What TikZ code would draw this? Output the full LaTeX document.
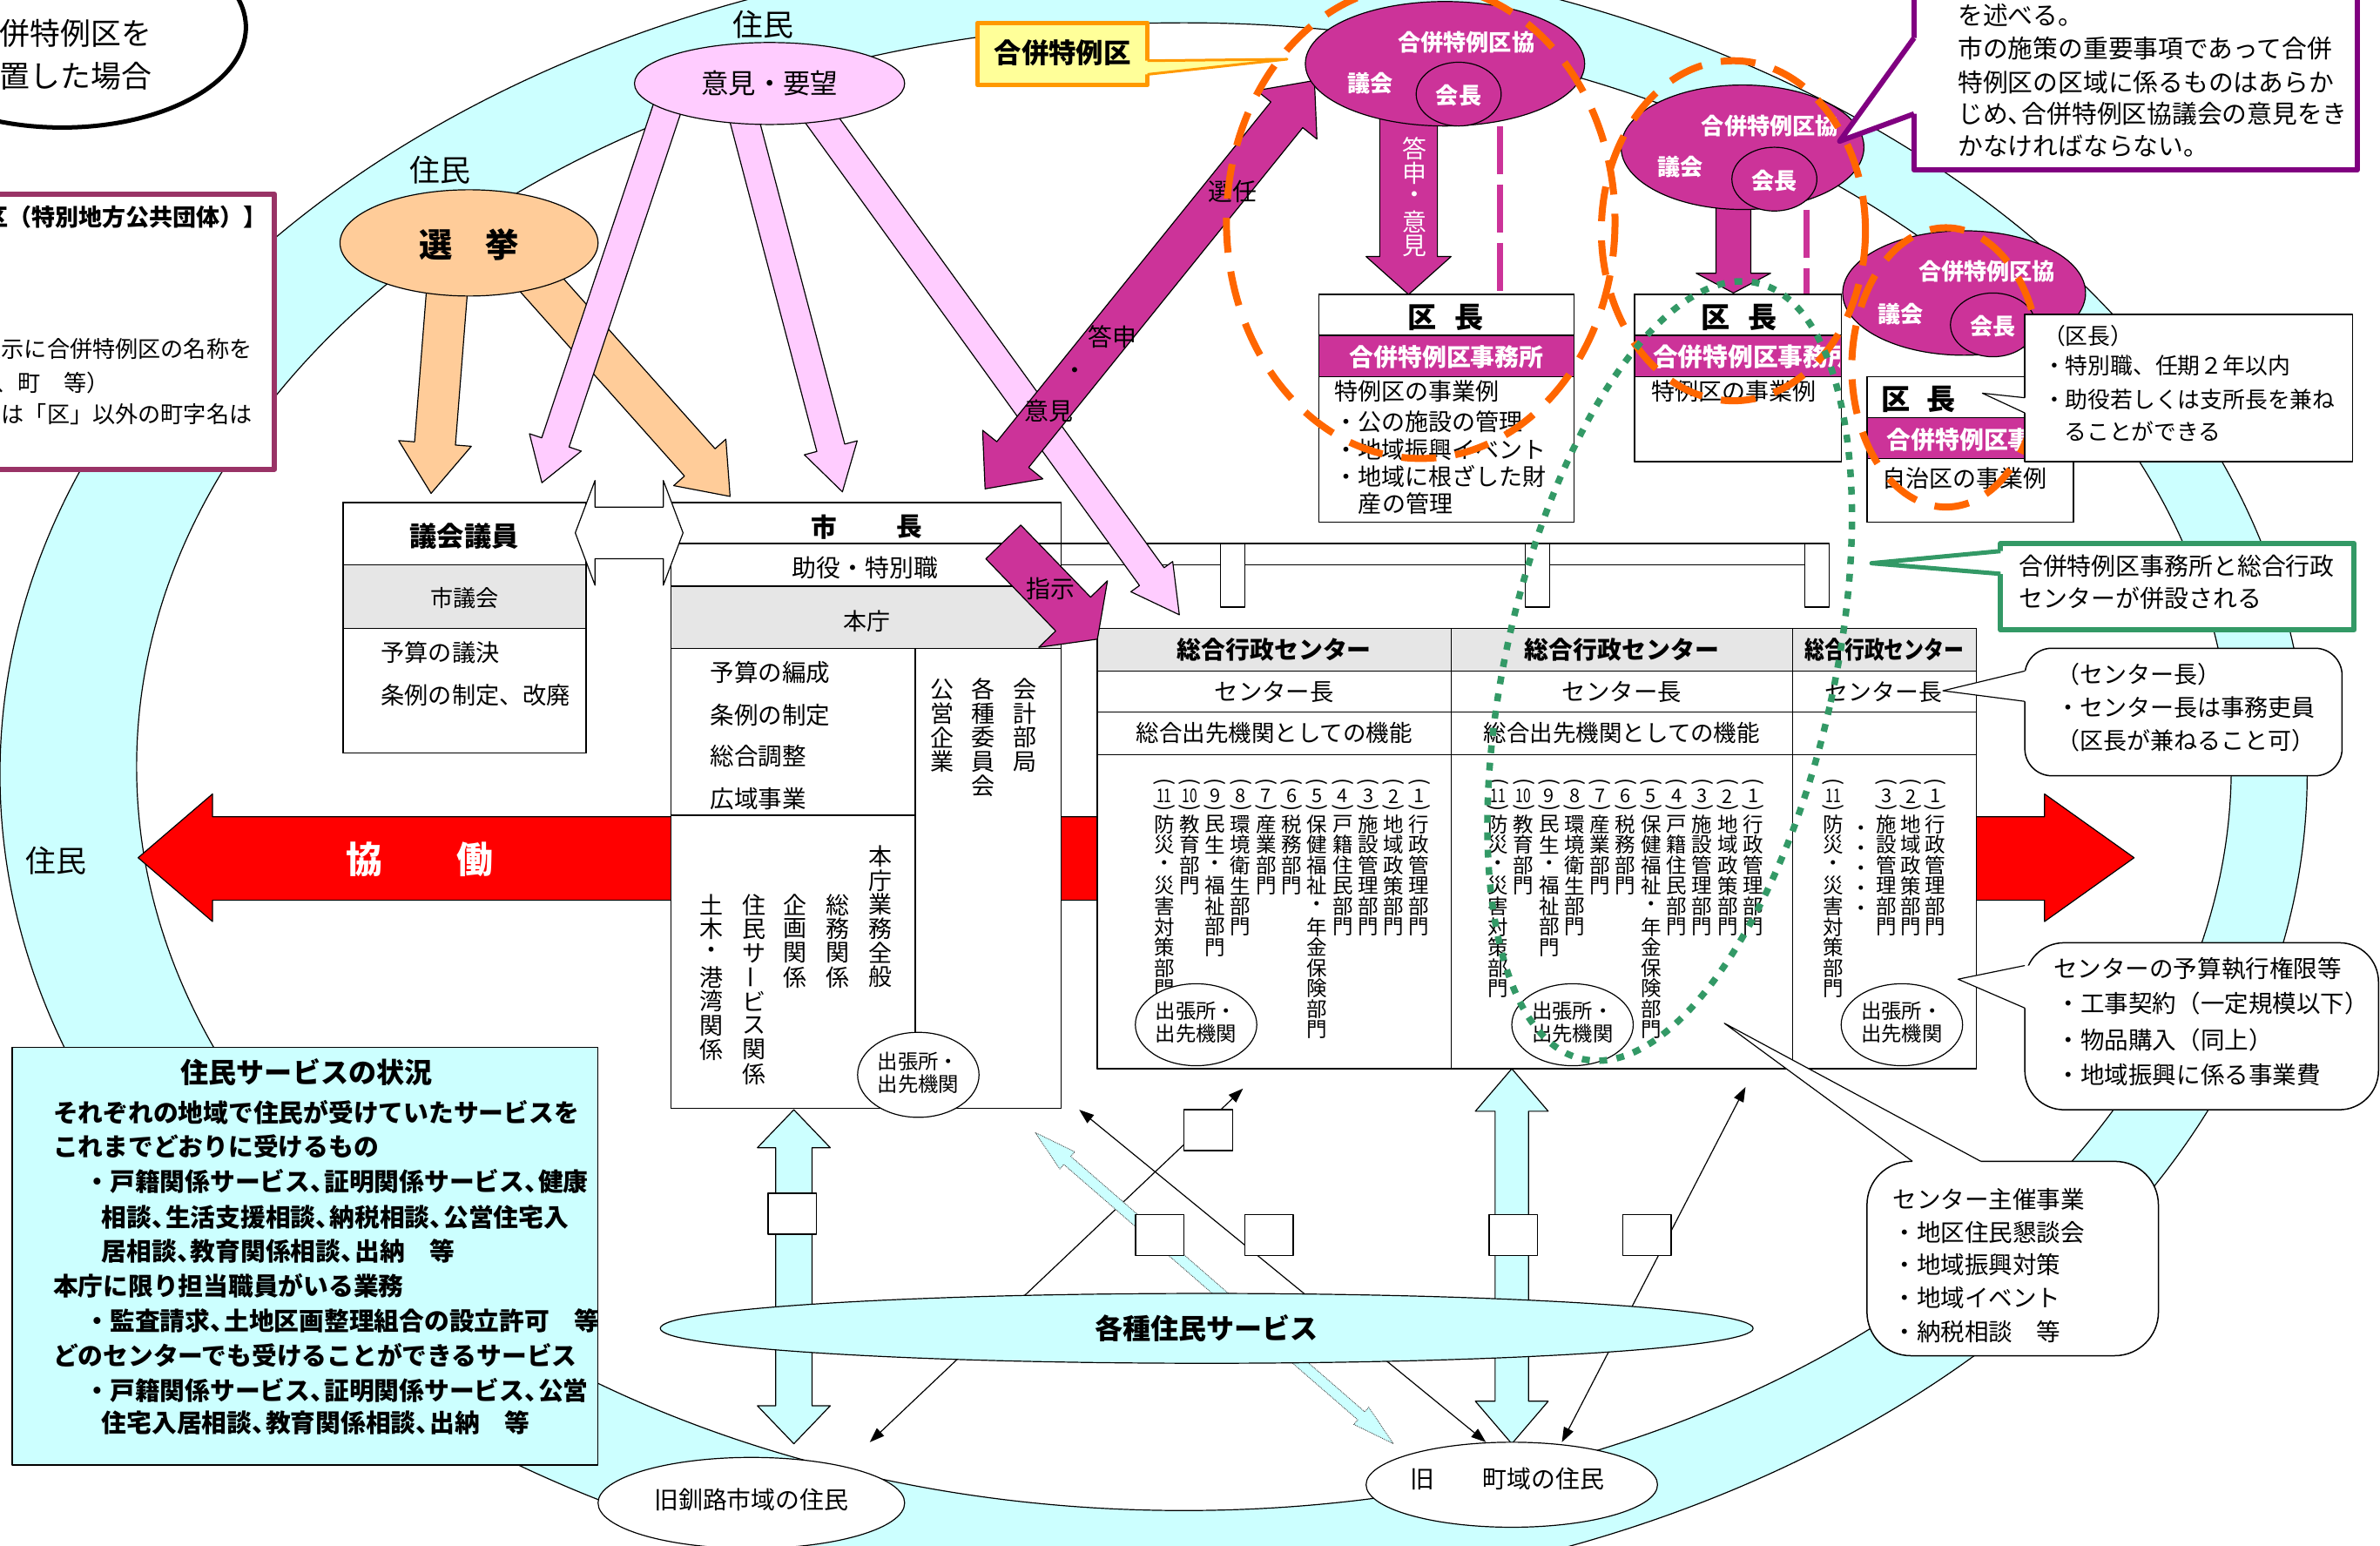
\documentclass[tikz,border=0pt]{standalone}
\usepackage{fontspec}
\setmainfont{Noto Sans CJK JP}
\usepackage{graphicx}
\usetikzlibrary{calc,arrows.meta}
\definecolor{ringc}{HTML}{CCFFFF}
\definecolor{peach}{HTML}{FFCC99}
\definecolor{pinkc}{HTML}{FFCCFF}
\definecolor{mag}{HTML}{CC3399}
\definecolor{orng}{HTML}{FF6600}
\definecolor{grn}{HTML}{339966}
\definecolor{grayc}{HTML}{E6E6E6}
\definecolor{purp}{HTML}{800080}
\definecolor{lpurp}{HTML}{993366}
\definecolor{yel}{HTML}{FFFF99}
\definecolor{yelb}{HTML}{FF9900}
\newcommand\fs[1]{\fontsize{\fpeval{1.743*#1}pt}{\fpeval{1.743*#1*1.2}pt}\selectfont}
\newcommand\hc{\makebox[0.55em][l]{、}}
\newcommand\vbar{\rotatebox[origin=c]{90}{ー}}
\newcommand\fatarrow[6][]{%
  \pgfpointdiff{\pgfpointanchor{#2}{center}}{\pgfpointanchor{#3}{center}}%
  \pgfgetlastxy\fadx\fady
  \pgfmathsetmacro\faang{atan2(\fady,\fadx)}%
  \pgfmathsetmacro\falen{veclen(\fadx,\fady)/1.743}%
  \begin{scope}[shift={(#2)},rotate=\faang]
    \path[#1] (0,{-#4/2}) -- ({\falen-#6},{-#4/2}) -- ({\falen-#6},{-#5/2}) -- (\falen,0) -- ({\falen-#6},{#5/2}) -- ({\falen-#6},{#4/2}) -- (0,{#4/2}) -- cycle;
  \end{scope}}
\newcommand\fatdarrow[6][]{%
  \pgfpointdiff{\pgfpointanchor{#2}{center}}{\pgfpointanchor{#3}{center}}%
  \pgfgetlastxy\fadx\fady
  \pgfmathsetmacro\faang{atan2(\fady,\fadx)}%
  \pgfmathsetmacro\falen{veclen(\fadx,\fady)/1.743}%
  \begin{scope}[shift={(#2)},rotate=\faang]
    \path[#1] (0,0) -- (#6,{-#5/2}) -- (#6,{-#4/2}) -- ({\falen-#6},{-#4/2}) -- ({\falen-#6},{-#5/2}) -- (\falen,0) -- ({\falen-#6},{#5/2}) -- ({\falen-#6},{#4/2}) -- (#6,{#4/2}) -- (#6,{#5/2}) -- cycle;
  \end{scope}}
\newcommand\vcol[5]{\foreach \ch [count=\k] in {#5}{\node[txt] (#1-\k) at ({#2},{#3+(\k-1)*#4}) {\ch};}}
\newcommand\titem[4]{%
  \node[txt,font=\fs{14}] (#1o) at ({#2},516) {\rotatebox[origin=c]{-90}{(}};
  \node[txt,font=\fs{12.5}] (#1n) at ({#2},524.5) {\ifnum#3>9 \scalebox{0.72}[1]{#3}\else #3\fi};
  \node[txt,font=\fs{14}] (#1c) at ({#2},533) {\rotatebox[origin=c]{-90}{)}};
  \vcol{#1}{#2}{543}{13.5}{#4}}
\newcommand\centercol[2]{%
  \titem{#1a}{#2}{1}{行,政,管,理,部,門}%
  \titem{#1b}{#2-16.8}{2}{地,域,政,策,部,門}%
  \titem{#1c}{#2-33.6}{3}{施,設,管,理,部,門}%
  \titem{#1d}{#2-50.4}{4}{戸,籍,住,民,部,門}%
  \titem{#1e}{#2-67.2}{5}{保,健,福,祉,・,年,金,保,険,部,門}%
  \titem{#1f}{#2-84}{6}{税,務,部,門}%
  \titem{#1g}{#2-100.8}{7}{産,業,部,門}%
  \titem{#1h}{#2-117.6}{8}{環,境,衛,生,部,門}%
  \titem{#1i}{#2-134.4}{9}{民,生,・,福,祉,部,門}%
  \titem{#1j}{#2-151.2}{10}{教,育,部,門}%
  \titem{#1k}{#2-168}{11}{防,災,・,災,害,対,策,部,門}}
\begin{document}
\begin{tikzpicture}[x=1.743pt,y=-1.743pt,line join=round,
  txt/.style={inner sep=0pt,outer sep=0pt,align=center},
  ln/.style={line width=1.2pt},
  bx/.style={draw,line width=1.5pt},
  dbl/.style={line width=1.2pt,{Triangle[length=17pt,width=12pt]}-{Triangle[length=17pt,width=12pt]}},
  odash/.style={draw=orng,line width=8pt,dash pattern=on 40pt off 22pt},
  wt/.style={txt,text=white,font=\fs{15}\bfseries}]
\useasboundingbox (0,0) rectangle (1568,1018);
\fill[white] (0,0) rectangle (1568,1018);
% ring
\fill[ringc,even odd rule] (760,510) ellipse [x radius=760,y radius=545] (780,505) ellipse [x radius=690,y radius=490];
\draw[ln] (760,510) ellipse [x radius=760,y radius=545];
\draw[ln] (780,505) ellipse [x radius=690,y radius=490];
% top-left ellipse
\draw[line width=5pt,fill=white] (41,18) ellipse [x radius=121,y radius=66];
\node[txt,anchor=east,font=\fs{20}] (tl1) at (100,22) {合併特例区を};
\node[txt,anchor=east,font=\fs{20}] (tl2) at (100,50) {設置した場合};
% left box
\draw[draw=lpurp,line width=6pt,fill=white] (-60,128) rectangle (181,309);
\node[txt,anchor=east,font=\fs{15.5}\bfseries] (lb1) at (176,143) {【合併特例区（特別地方公共団体）】};
\node[txt,anchor=east,font=\fs{15}] (lb2) at (166,230) {住居表示に合併特例区の名称を};
\node[txt,anchor=east,font=\fs{15}] (lb3) at (72,252) {（区、町　等）};
\node[txt,anchor=east,font=\fs{15}] (lb4) at (166,273) {又は「区」以外の町字名は};
% election
\coordinate (a1s) at (295,185); \coordinate (a1e) at (284,325);
\coordinate (a2s) at (350,180); \coordinate (a2e) at (481,327);
\fatarrow[fill=peach,draw,ln]{a1s}{a1e}{27}{48}{33}
\fatarrow[fill=peach,draw,ln]{a2s}{a2e}{27}{46}{30}
\draw[ln,fill=peach] (309,160) ellipse [x radius=85,y radius=35];
\node[txt,font=\fs{22}\bfseries] (senkyo) at (309,161) {選　挙};
\node[txt,font=\fs{20}] (jumin1) at (290,112) {住民};
% opinions
\coordinate (p1s) at (440,70); \coordinate (p1e) at (357,318);
\coordinate (p2s) at (488,70); \coordinate (p2e) at (555,324);
\coordinate (p3s) at (535,70); \coordinate (p3e) at (777,405);
\fatarrow[fill=pinkc,draw,ln]{p1s}{p1e}{19}{36}{28}
\fatarrow[fill=pinkc,draw,ln]{p2s}{p2e}{19}{36}{30}
% red collaboration arrow
\draw[ln,fill=red] (91,565) -- (140,523) -- (140,538) -- (1347,538) -- (1347,523) -- (1406,565) -- (1347,607) -- (1347,593) -- (140,593) -- (140,607) -- cycle;
\node[txt,font=\fs{24}\bfseries,text=white] (kyo) at (240,566) {協};
\node[txt,font=\fs{24}\bfseries,text=white] (dou) at (313,566) {働};
\node[txt,font=\fs{20}] (jumin3) at (37,567) {住民};
% assembly box
\draw[bx,fill=white] (226,331) rectangle (386,496);
\fill[grayc] (226,372) rectangle (386,414);
\draw[bx] (226,372) -- (386,372) (226,414) -- (386,414);
\draw[bx] (226,331) rectangle (386,496);
\node[txt,font=\fs{18}\bfseries] (gikai) at (306,353) {議会議員};
\node[txt,font=\fs{15}] (shigikai) at (306,394) {市議会};
\node[txt,anchor=west,font=\fs{15.6}] (g1) at (251,430) {予算の議決};
\node[txt,anchor=west,font=\fs{15.6}] (g2) at (251,458) {条例の制定、改廃};
% mayor box
\draw[bx,fill=white] (442,331) rectangle (699,730);
\fill[grayc] (442,386) rectangle (699,427);
\draw[bx] (442,358) -- (699,358) (442,386) -- (699,386) (442,427) -- (699,427) (603,427) -- (603,730) (442,537) -- (603,537);
\draw[bx] (442,331) rectangle (699,730);
\node[txt,font=\fs{17}\bfseries] (shi) at (543,347) {市};
\node[txt,font=\fs{17}\bfseries] (cho) at (599,347) {長};
\node[txt,font=\fs{16}] (joyaku) at (570,374) {助役・特別職};
\node[txt,font=\fs{15.5}] (honcho) at (571,409) {本庁};
\begin{scope}[font=\fs{15.8}]
\node[txt,anchor=west] (m1) at (468,443) {予算の編成};
\node[txt,anchor=west] (m2) at (468,471) {条例の制定};
\node[txt,anchor=west] (m3) at (468,498) {総合調整};
\node[txt,anchor=west] (m4) at (468,526) {広域事業};
\end{scope}
\begin{scope}[font=\fs{15.5}]
\vcol{ko}{621}{454}{15.9}{公,営,企,業}
\vcol{ka}{648}{454}{15.9}{各,種,委,員,会}
\vcol{kk}{675}{454}{15.9}{会,計,部,局}
\vcol{hg}{580}{564}{15.9}{本,庁,業,務,全,般}
\vcol{so}{552}{596}{15.9}{総,務,関,係}
\vcol{ki}{524}{596}{15.9}{企,画,関,係}
\vcol{js}{497}{596}{15.9}{住,民,サ,\vbar,ビ,ス,関,係}
\vcol{dk}{469}{596}{15.9}{土,木,・,港,湾,関,係}
\end{scope}
\draw[ln,fill=white] (605,708) ellipse [x radius=40,y radius=28];
\node[txt,font=\fs{13.4}] (mc1) at (605,699) {出張所・};
\node[txt,font=\fs{13.4}] (mc2) at (605,714) {出先機関};
% pipe
\draw[bx] (699,358) -- (1205,358);
\draw[bx] (699,372) -- (804,372) (820,372) -- (1005,372) (1021,372) -- (1189,372);
\draw[bx,fill=white] (804,358) rectangle (820,400);
\draw[bx,fill=white] (1005,358) rectangle (1021,400);
\draw[bx,fill=white] (1189,358) rectangle (1205,400);
% centers table
\draw[bx,fill=white] (723,414) rectangle (1302,704);
\fill[grayc] (723,414) rectangle (1302,442);
\draw[bx] (723,442) -- (1302,442) (723,469) -- (1302,469) (723,497) -- (1302,497) (956,414) -- (956,704) (1181,414) -- (1181,704);
\draw[bx] (723,414) rectangle (1302,704);
\node[txt,font=\fs{16}\bfseries] (h1) at (839.5,428) {総合行政センター};
\node[txt,font=\fs{16}\bfseries] (h2) at (1068.5,428) {総合行政センター};
\node[txt,font=\fs{16}\bfseries] (h3) at (1241.5,428) {\scalebox{0.82}[1]{総合行政センター}};
\node[txt,font=\fs{15.7}] (c1) at (839.5,456) {センター長};
\node[txt,font=\fs{15.7}] (c2) at (1068.5,456) {センター長};
\node[txt,font=\fs{15.4}] (c3) at (1241,456) {センター長};
\node[txt,font=\fs{15.2}] (f1) at (839.5,483) {総合出先機関としての機能};
\node[txt,font=\fs{15.2}] (f2) at (1068.5,483) {総合出先機関としての機能};
\begin{scope}[font=\fs{13.5}]
\centercol{u}{935}
\centercol{v}{1155}
\titem{wa}{1275}{1}{行,政,管,理,部,門}
\titem{wb}{1259}{2}{地,域,政,策,部,門}
\titem{wc}{1243}{3}{施,設,管,理,部,門}
\vcol{wdots}{1226}{547}{13.3}{・,・,・,・,・}
\titem{wk}{1208}{11}{防,災,・,災,害,対,策,部,門}
\end{scope}
\foreach \cx/\nm in {788/o1,1036/o2,1253/o3}{
  \draw[ln,fill=white] (\cx,675) ellipse [x radius=40,y radius=27];
  \node[txt,font=\fs{13.4}] (\nm a) at (\cx,666) {出張所・};
  \node[txt,font=\fs{13.4}] (\nm b) at (\cx,681) {出先機関};}
% pink arrow over pipe
\fatarrow[fill=pinkc,draw,ln]{p3s}{p3e}{20}{34}{31}
\draw[ln,fill=pinkc] (507,55) ellipse [x radius=89,y radius=27];
\node[txt,font=\fs{18}] (iken) at (507,55) {意見・要望};
\node[txt,font=\fs{20}] (jumin2) at (503,16) {住民};
% instruction arrow
\coordinate (sj1) at (661,357); \coordinate (sj2) at (723,421);
\fatarrow[fill=mag,draw,ln]{sj1}{sj2}{32}{63}{23}
\node[txt,font=\fs{16}] (shiji) at (692,388) {指示};
% appointment arrow
\coordinate (sn1) at (649,322); \coordinate (sn2) at (866,53);
\fatdarrow[fill=mag,draw,ln]{sn1}{sn2}{27}{51}{29}
\node[txt,font=\fs{16}] (sennin) at (812,126) {選任};
\node[txt,font=\fs{16}] (toushin) at (733,222) {答申};
\node[txt,font=\fs{16}] (ten) at (708,246) {・};
\node[txt,font=\fs{16}] (ikenl) at (691,271) {意見};
% down arrows from councils
\coordinate (d1s) at (928,70); \coordinate (d1e) at (928,194);
\fatarrow[fill=mag,draw,ln]{d1s}{d1e}{38}{56}{25}
\coordinate (d2s) at (1142,125); \coordinate (d2e) at (1142,193);
\fatarrow[fill=mag,draw,ln]{d2s}{d2e}{23}{49}{13}
\begin{scope}[font=\fs{16},text=white]
\vcol{td}{932}{98}{16}{答,申,・,意,見}
\end{scope}
\draw[mag,line width=7pt,dash pattern=on 55pt off 12pt] (988,83) -- (988,194);
\draw[mag,line width=7pt,dash pattern=on 55pt off 12pt] (1190,138) -- (1190,194);
% ward head boxes
\draw[bx,fill=white] (869,194) rectangle (1037,344);
\fill[mag] (869,221) rectangle (1037,248);
\draw[bx] (869,221) -- (1037,221) (869,248) -- (1037,248);
\draw[bx] (869,194) rectangle (1037,344);
\node[txt,font=\fs{19}\bfseries] (k1a) at (937,209) {区};
\node[txt,font=\fs{19}\bfseries] (k1b) at (968,209) {長};
\node[wt,font=\fs{16}\bfseries] (k1c) at (953,235) {合併特例区事務所};
\begin{scope}[font=\fs{15.5}]
\node[txt,anchor=west] (k1d) at (879,258) {特例区の事業例};
\node[txt,anchor=west] (k1e) at (879,278) {・公の施設の管理};
\node[txt,anchor=west] (k1f) at (879,296) {・地域振興イベント};
\node[txt,anchor=west] (k1g) at (879,314) {・地域に根ざした財};
\node[txt,anchor=west] (k1h) at (895,332) {産の管理};
\end{scope}
\draw[bx,fill=white] (1077,194) rectangle (1213,304);
\fill[mag] (1077,221) rectangle (1213,248);
\draw[bx] (1077,221) -- (1213,221) (1077,248) -- (1213,248);
\draw[bx] (1077,194) rectangle (1213,304);
\node[txt,font=\fs{19}\bfseries] (k2a) at (1130,209) {区};
\node[txt,font=\fs{19}\bfseries] (k2b) at (1161,209) {長};
\begin{scope}
\clip (1077,221) rectangle (1212,248);
\node[wt,anchor=west,font=\fs{16.5}\bfseries] (k2c) at (1089,235) {合併特例区事務所};
\end{scope}
\node[txt,anchor=west,font=\fs{15.5}] (k2d) at (1088,258) {特例区の事業例};
\draw[bx,fill=white] (1230,248) rectangle (1366,344);
\fill[mag] (1230,275) rectangle (1366,302);
\draw[bx] (1230,275) -- (1366,275) (1230,302) -- (1366,302);
\draw[bx] (1230,248) rectangle (1366,344);
\node[txt,font=\fs{19}\bfseries] (k3a) at (1249,263) {区};
\node[txt,font=\fs{19}\bfseries] (k3b) at (1279,263) {長};
\node[wt,anchor=west,font=\fs{16}\bfseries] (k3c) at (1243,290) {合併特例区事務所};
\node[txt,anchor=west,font=\fs{15.5}] (k3d) at (1240,315) {自治区の事業例};
% council ellipses
\draw[ln,fill=mag] (952,42) ellipse [x radius=92,y radius=41];
\draw[ln,fill=mag] (961,62) ellipse [x radius=28,y radius=21];
\node[wt,anchor=west] (e1a) at (921,28) {合併特例区協};
\node[wt] (e1b) at (903,55) {議会};
\node[wt] (e1c) at (961,63) {会長};
\draw[ln,fill=mag] (1148,97) ellipse [x radius=80,y radius=41];
\draw[ln,fill=mag] (1169,118) ellipse [x radius=28,y radius=21];
\node[wt,anchor=west] (e2a) at (1121,83) {合併特例区協};
\node[wt] (e2b) at (1107,110) {議会};
\node[wt] (e2c) at (1169,119) {会長};
\draw[ln,fill=mag] (1294,193) ellipse [x radius=80,y radius=41];
\draw[ln,fill=mag] (1313,214) ellipse [x radius=28,y radius=21];
\node[wt,anchor=west] (e3a) at (1264,179) {合併特例区協};
\node[wt] (e3b) at (1252,207) {議会};
\node[wt] (e3c) at (1313,215) {会長};
% orange dashed groups
\draw[odash] (936,146) ellipse [x radius=128,y radius=156];
\draw[odash] (1142,152) ellipse [x radius=87,y radius=112];
\draw[odash] (1282,242) ellipse [x radius=62,y radius=92];
% green dotted
\draw[grn,line width=7.5pt,dash pattern=on 9pt off 11pt,shift={(1100,442)},rotate=-12.7] (0,0) ellipse [x radius=108,y radius=262];
% callout: yellow label
\draw[draw=yelb,line width=5pt,fill=yel] (644,15) rectangle (756,56);
\fill[yel] (752,40) -- (756,40) -- (848,39) -- (756,49) -- (752,49) -- cycle;
\draw[draw=yelb,line width=3pt] (756,40) -- (848,39) -- (756,49);
\node[txt,font=\fs{18}\bfseries] (gtl) at (700,35) {合併特例区};
% callout: top right purple
\draw[draw=purp,line width=6pt,fill=white] (1261,-10) rectangle (1553,112);
\fill[white] (1266,25) -- (1261,25) -- (1212,93) -- (1261,75) -- (1266,75) -- cycle;
\draw[draw=purp,line width=6pt] (1261,25) -- (1212,93) -- (1261,75);
\begin{scope}[font=\fs{16.5}]
\node[txt,anchor=west] (tr1) at (1290,10) {を述べる。};
\node[txt,anchor=west] (tr2) at (1290,32) {市の施策の重要事項であって合併};
\node[txt,anchor=west] (tr3) at (1290,54) {特例区の区域に係るものはあらか};
\node[txt,anchor=west] (tr4) at (1290,75) {じめ\hc 合併特例区協議会の意見をき};
\node[txt,anchor=west] (tr5) at (1290,96) {かなければならない。};
\end{scope}
% callout: ward head
\draw[bx,fill=white] (1334,207) rectangle (1550,304);
\fill[white] (1338,262) -- (1334,262) -- (1306,259) -- (1334,272) -- (1338,272) -- cycle;
\draw[ln] (1334,262) -- (1306,259) -- (1334,272);
\begin{scope}[font=\fs{14.8}]
\node[txt,anchor=west] (q1) at (1346,221) {（区長）};
\node[txt,anchor=west] (q2) at (1346,241) {・特別職、任期２年以内};
\node[txt,anchor=west] (q3) at (1346,263) {・助役若しくは支所長を兼ね};
\node[txt,anchor=west] (q4) at (1360,284) {ることができる};
\end{scope}
% callout: green
\draw[draw=grn,line width=6pt,fill=white] (1318,358) rectangle (1551,415);
\fill[white] (1324,363) -- (1318,363) -- (1233,371) -- (1318,378) -- (1324,378) -- cycle;
\draw[draw=grn,line width=5pt] (1318,363) -- (1233,371) -- (1318,378);
\node[txt,anchor=west,font=\fs{16}] (gr1) at (1330,373) {合併特例区事務所と総合行政};
\node[txt,anchor=west,font=\fs{16}] (gr2) at (1330,394) {センターが併設される};
% callout: center head
\draw[bx,fill=white,rounded corners=31pt] (1334,427) rectangle (1543,511);
\fill[white] (1338,442) -- (1334,442) -- (1280,455) -- (1334,462) -- (1338,462) -- cycle;
\draw[ln] (1334,442) -- (1280,455) -- (1334,462);
\begin{scope}[font=\fs{15.5}]
\node[txt,anchor=west] (s1) at (1355,444) {（センター長）};
\node[txt,anchor=west] (s2) at (1355,466) {・センター長は事務吏員};
\node[txt,anchor=west] (s3) at (1355,488) {（区長が兼ねること可）};
\end{scope}
% callout: budget
\draw[bx,fill=white,rounded corners=45pt] (1334,621) rectangle (1567,731);
\fill[white] (1338,636) -- (1334,636) -- (1290,645) -- (1334,664) -- (1338,664) -- cycle;
\draw[ln] (1334,636) -- (1290,645) -- (1334,664);
\begin{scope}[font=\fs{15.8}]
\node[txt,anchor=west] (y1) at (1353,638) {センターの予算執行権限等};
\node[txt,anchor=west] (y2) at (1355,661) {・工事契約（一定規模以下）};
\node[txt,anchor=west] (y3) at (1355,685) {・物品購入（同上）};
\node[txt,anchor=west] (y4) at (1355,708) {・地域振興に係る事業費};
\end{scope}
% callout: center events
\draw[bx,fill=white,rounded corners=50pt] (1230,765) rectangle (1422,893);
\fill[white] (1260,769) -- (1260,765) -- (1136,674) -- (1305,765) -- (1305,769) -- cycle;
\draw[ln] (1260,765) -- (1136,674) -- (1305,765);
\begin{scope}[font=\fs{15.8}]
\node[txt,anchor=west] (z1) at (1247,790) {センター主催事業};
\node[txt,anchor=west] (z2) at (1247,812) {・地区住民懇談会};
\node[txt,anchor=west] (z3) at (1247,833) {・地域振興対策};
\node[txt,anchor=west] (z4) at (1247,855) {・地域イベント};
\node[txt,anchor=west] (z5) at (1247,877) {・納税相談　等};
\end{scope}
% white double arrow
\coordinate (wa1) at (379,351); \coordinate (wa2) at (450,351);
\fatdarrow[fill=white,draw,ln]{wa1}{wa2}{34}{69}{13}
% bottom connections
\coordinate (la1) at (573,950); \coordinate (la2) at (819,717);
\coordinate (lb1) at (711,731); \coordinate (lb2) at (979,950);
\coordinate (lc1) at (1029,950); \coordinate (lc2) at (1150,716);
\draw[dbl] (la1) -- (la2);
\draw[dbl] (lb1) -- (lb2);
\draw[dbl] (lc1) -- (lc2);
\coordinate (ca1) at (523,731); \coordinate (ca2) at (523,951);
\coordinate (cb1) at (996,704); \coordinate (cb2) at (996,951);
\fatdarrow[fill=ringc,draw,ln]{ca1}{ca2}{24}{48}{25}
\fatdarrow[fill=ringc,draw,ln]{cb1}{cb2}{22}{48}{28}
\coordinate (dt1) at (682,746); \coordinate (dt2) at (918,951);
\fatdarrow[fill=ringc,draw=black!70,densely dotted,line width=0.9pt]{dt1}{dt2}{7}{15}{28}
\draw[ln,fill=ringc] (795,875) ellipse [x radius=360,y radius=23];
\node[txt,font=\fs{18.4}\bfseries] (kakushu) at (795,875) {各種住民サービス};
\foreach \bx/\by/\nm in {506/786/w1,780/731/w2,748/800/w3,820/800/w4,981/800/w5,1069/800/w6}{
  \draw[bx,fill=white] (\bx,\by) rectangle ++(32,27) coordinate (\nm);}
\draw[ln,fill=white] (495,990) ellipse [x radius=101,y radius=30];
\node[txt,font=\fs{16}] (kushiro) at (495,988) {旧釧路市域の住民};
\draw[ln,fill=white] (996,978) ellipse [x radius=96,y radius=28];
\node[txt,font=\fs{16}] (chouiki) at (993,974) {旧　　町域の住民};
% services box
\draw[bx,fill=ringc] (8,690) rectangle (394,965);
\node[txt,font=\fs{18.4}\bfseries] (svt) at (202,706) {住民サービスの状況};
\begin{scope}[font=\fs{16.5}\bfseries]
\node[txt,anchor=west] (sv1) at (35,733) {それぞれの地域で住民が受けていたサービスを};
\node[txt,anchor=west] (sv2) at (35,755) {これまでどおりに受けるもの};
\node[txt,anchor=west] (sv3) at (56,778) {・戸籍関係サービス\hc 証明関係サービス\hc 健康};
\node[txt,anchor=west] (sv4) at (67,802) {相談\hc 生活支援相談\hc 納税相談\hc 公営住宅入};
\node[txt,anchor=west] (sv5) at (67,824) {居相談\hc 教育関係相談\hc 出納　等};
\node[txt,anchor=west] (sv6) at (35,847) {本庁に限り担当職員がいる業務};
\node[txt,anchor=west] (sv7) at (56,870) {・監査請求\hc 土地区画整理組合の設立許可　等};
\node[txt,anchor=west] (sv8) at (35,893) {どのセンターでも受けることができるサービス};
\node[txt,anchor=west] (sv9) at (56,916) {・戸籍関係サービス\hc 証明関係サービス\hc 公営};
\node[txt,anchor=west] (sv10) at (67,937) {住宅入居相談\hc 教育関係相談\hc 出納　等};
\end{scope}
\end{tikzpicture}
\end{document}
